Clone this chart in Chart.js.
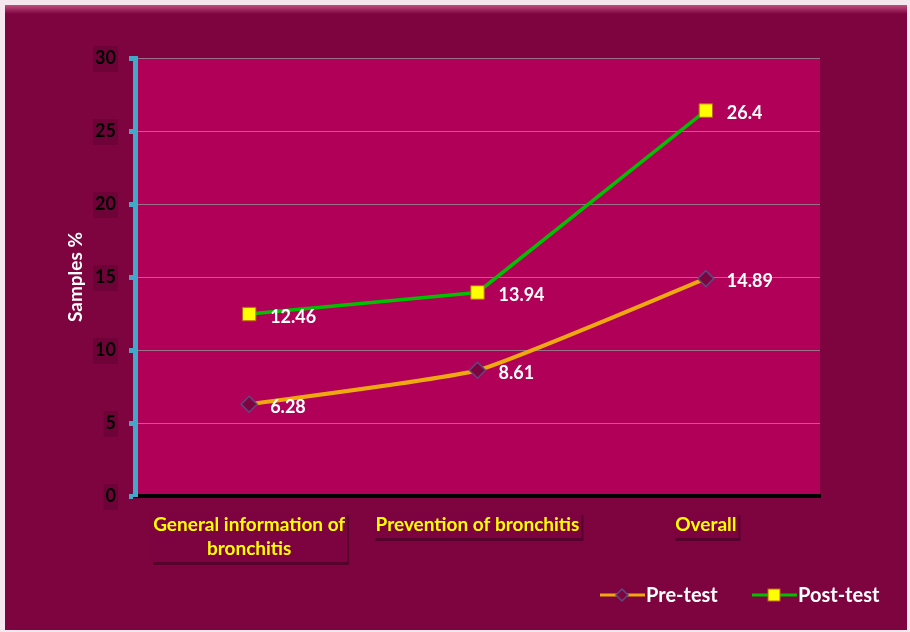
<!DOCTYPE html>
<html><head><meta charset="utf-8">
<script src="https://cdn.jsdelivr.net/npm/chart.js@4.4.1/dist/chart.umd.min.js"></script>
<style>html,body{margin:0;padding:0;background:#fff}canvas{display:block}</style>
</head><body>
<canvas id="c" width="910" height="632"></canvas>
<script>
const categories = [["General information of","bronchitis"],"Prevention of bronchitis","Overall"];
const preTest = [6.28, 8.61, 14.89];
const postTest = [12.46, 13.94, 26.4];
const yTicks = [0,5,10,15,20,25,30];

const FONT = "Lato, 'Open Sans', sans-serif";

const bgPlugin = {
  id:'bg',
  beforeDraw(chart){
    const {ctx, chartArea:a} = chart;
    ctx.save();
    ctx.fillStyle='#f4e8ee'; ctx.fillRect(0,0,910,632);
    ctx.fillStyle='#7e0440'; ctx.fillRect(5,5,902,625);
    const g=ctx.createLinearGradient(0,5,0,14);
    g.addColorStop(0,'#c0507e'); g.addColorStop(1,'#7e0440');
    ctx.fillStyle=g; ctx.fillRect(5,5,902,9);
    ctx.fillStyle='#b00058';
    ctx.fillRect(a.left,a.top,a.right-a.left,a.bottom-a.top);
    ctx.strokeStyle='#8a7080'; ctx.lineWidth=1;
    ctx.beginPath(); ctx.moveTo(a.left,a.top+0.5); ctx.lineTo(a.right,a.top+0.5); ctx.stroke();
    const xs=chart.scales.x;
    ctx.font="bold 19px "+FONT;
    chart.data.labels.forEach((lab,i)=>{
      const lines=Array.isArray(lab)?lab:[lab];
      const cx=xs.getPixelForTick(i);
      const w=Math.max(...lines.map(l=>ctx.measureText(l).width))+4;
      const h=lines.length*24+2;
      const top=512;
      ctx.fillStyle='rgba(40,0,20,0.45)';
      ctx.fillRect(cx-w/2+2,top+3,w,h);
      ctx.fillStyle='#7c0340';
      ctx.fillRect(cx-w/2,top,w,h);
      ctx.fillStyle='#ffff00'; ctx.textAlign='center'; ctx.textBaseline='middle';
      lines.forEach((l,k)=>ctx.fillText(l,cx,top+13+k*24));
    });
    ctx.restore();
  },
  afterDraw(chart){
    const {ctx} = chart;
    ctx.save();
    ctx.font = "bold 18px "+FONT;
    ctx.fillStyle='#ffffff';
    ctx.textBaseline='middle';
    chart.data.datasets.forEach((ds,i)=>{
      const meta=chart.getDatasetMeta(i);
      meta.data.forEach((pt,j)=>{
        ctx.fillText(String(ds.data[j]), pt.x+21, pt.y+3);
      });
    });
    const items=[{t:'Pre-test',ds:0,x:600},{t:'Post-test',ds:1,x:752}];
    const y=595;
    items.forEach(it=>{
      const ds=chart.data.datasets[it.ds];
      ctx.strokeStyle=ds.borderColor; ctx.lineWidth=3;
      ctx.beginPath(); ctx.moveTo(it.x,y); ctx.lineTo(it.x+45,y); ctx.stroke();
      const cx=it.x+22;
      if(it.ds===0){
        ctx.beginPath(); ctx.moveTo(cx,y-6); ctx.lineTo(cx+6,y); ctx.lineTo(cx,y+6); ctx.lineTo(cx-6,y); ctx.closePath();
        ctx.fillStyle='#7e0440'; ctx.fill(); ctx.strokeStyle='#5a4a80'; ctx.lineWidth=1.5; ctx.stroke();
      } else {
        ctx.fillStyle='#ffff00'; ctx.fillRect(cx-6,y-6,12,12);
        ctx.strokeStyle='#c06020'; ctx.lineWidth=1; ctx.strokeRect(cx-6,y-6,12,12);
      }
      ctx.fillStyle='#ffffff'; ctx.font="bold 20px "+FONT; ctx.textBaseline='middle'; ctx.textAlign='left';
      ctx.fillText(it.t,it.x+46,y+1);
    });
    ctx.restore();
  }
};

new Chart(document.getElementById('c'),{
  type:'line',
  data:{labels:categories,datasets:[
    {label:'Pre-test',data:preTest,borderColor:'#eea810',borderWidth:4,
     pointStyle:'rectRot',pointRadius:8,pointHoverRadius:8,pointBackgroundColor:'#7e0440',pointBorderColor:'#5a4a80',pointBorderWidth:1.5,tension:0.15},
    {label:'Post-test',data:postTest,borderColor:'#00c000',borderWidth:3.5,
     pointStyle:'rect',pointRadius:9.5,pointHoverRadius:9.5,pointBackgroundColor:'#ffff00',pointBorderColor:'#c06020',pointBorderWidth:1,tension:0}
  ]},
  options:{
    responsive:false,animation:false,
    layout:{padding:{left:64,right:90,top:58,bottom:0}},
    plugins:{legend:{display:false},tooltip:{enabled:false}},
    scales:{
      x:{offset:true,
        border:{color:'#000000',width:4},
        grid:{display:false},
        ticks:{color:'rgba(0,0,0,0)',font:{family:FONT,weight:'bold',size:16},maxRotation:0},
        afterFit(s){s.height=136;}
      },
      y:{min:0,max:30,
        afterBuildTicks(s){s.ticks=yTicks.map(v=>({value:v}));},
        border:{color:'#40a8c8',width:5},
        grid:{color:'#9a7088',lineWidth:1,tickColor:'#40a8c8',tickLength:6,tickWidth:5,drawOnChartArea:true},
        ticks:{color:'#000000',font:{family:FONT,weight:'bold',size:18},padding:13,
          showLabelBackdrop:true,backdropColor:'#6e0338',backdropPadding:{top:1,bottom:3,left:2,right:2}},
        title:{display:true,text:'Samples %',color:'#ffffff',font:{family:FONT,weight:'bold',size:19},padding:{top:0,bottom:0}},
        afterFit(s){s.width=71;}
      }
    }
  },
  plugins:[bgPlugin]
});
</script>
</body></html>
